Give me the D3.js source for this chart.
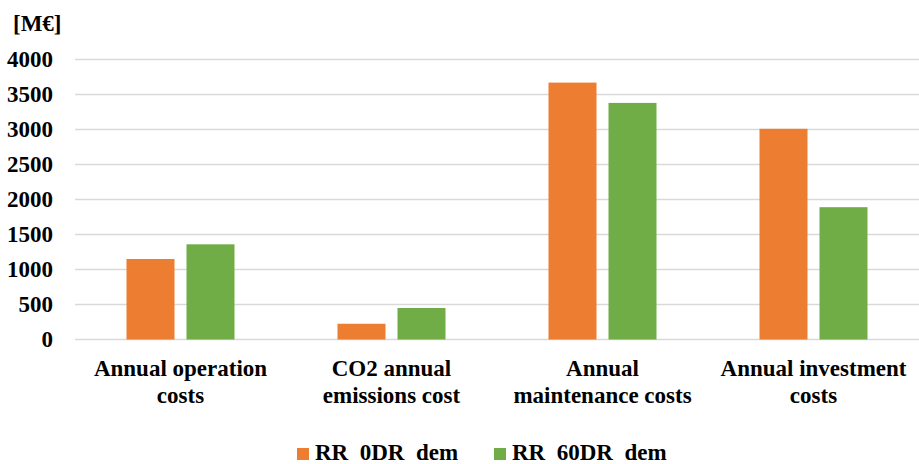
<!DOCTYPE html>
<html>
<head>
<meta charset="utf-8">
<script src="https://cdn.jsdelivr.net/npm/d3@7"></script>
<style>
  html, body { margin: 0; padding: 0; background: #ffffff; }
  svg { display: block; }
</style>
</head>
<body>
<svg id="chart" width="919" height="464"></svg>
<script>
// Cost categories (two-line labels) and the two scenarios
const categories = [
  ["Annual operation", "costs"],
  ["CO2 annual", "emissions cost"],
  ["Annual", "maintenance costs"],
  ["Annual investment", "costs"]
];
const seriesNames = ["RR  0DR  dem", "RR  60DR  dem"];
const rr0drValues = [1150, 225, 3670, 3010];
const rr60drValues = [1360, 450, 3380, 1890];
const yTicks = [0, 500, 1000, 1500, 2000, 2500, 3000, 3500, 4000];
const yTitle = "[M€]";

const colors = ["#ED7D31", "#70AD47"];
const seriesValues = [rr0drValues, rr60drValues];
const FONT = "'Liberation Serif', 'Times New Roman', serif";

function styleText(sel, size) {
  return sel.style("font-family", FONT)
    .style("font-weight", "bold")
    .style("font-size", size + "px")
    .style("fill", "#000");
}

const svg = d3.select("#chart");
const plot = { left: 75, right: 919, top: 59.5, bottom: 339.5 };

const x0 = d3.scaleBand()
  .domain(d3.range(categories.length))
  .range([plot.left, plot.right])
  .padding(0);

const groupWidth = 108;
const x1 = d3.scaleBand()
  .domain(d3.range(seriesNames.length))
  .range([0, groupWidth])
  .paddingInner(0.2)
  .paddingOuter(0);

const y = d3.scaleLinear().domain([0, 4000]).range([plot.bottom, plot.top]);

// Horizontal gridlines
svg.append("g")
  .selectAll("line")
  .data(yTicks)
  .join("line")
  .attr("x1", plot.left)
  .attr("x2", plot.right)
  .attr("y1", d => y(d))
  .attr("y2", d => y(d))
  .attr("stroke", "#d9d9d9")
  .attr("stroke-width", 1.5);

// Y axis tick labels
const yAxis = d3.axisLeft(y).tickValues(yTicks).tickFormat(d3.format("d")).tickSize(0).tickPadding(0);
const yg = svg.append("g")
  .attr("transform", "translate(53,0)")
  .call(yAxis);
yg.select(".domain").remove();
styleText(yg.selectAll("text"), 23);

// Unit title
styleText(svg.append("text")
  .attr("x", 13)
  .attr("y", 31)
  .text(yTitle), 23);

// Bars
const groups = svg.append("g")
  .selectAll("g")
  .data(categories.map((c, i) => i))
  .join("g")
  .attr("transform", i => `translate(${x0(i) + (x0.bandwidth() - groupWidth) / 2},0)`);

groups.selectAll("rect")
  .data(i => seriesValues.map((vals, s) => ({ s, v: vals[i] })))
  .join("rect")
  .attr("x", d => x1(d.s))
  .attr("width", x1.bandwidth())
  .attr("y", d => y(d.v))
  .attr("height", d => y(0) - y(d.v))
  .attr("fill", d => colors[d.s]);

// Category labels
const labels = styleText(svg.append("g")
  .selectAll("text")
  .data(categories)
  .join("text")
  .attr("text-anchor", "middle")
  .attr("transform", (d, i) => `translate(${x0(i) + x0.bandwidth() / 2},0)`), 23);
labels.selectAll("tspan")
  .data(d => d)
  .join("tspan")
  .attr("x", 0)
  .attr("y", (d, j) => 376 + j * 27)
  .text(d => d);

// Legend
const legendX = [297, 494];
const legend = svg.append("g")
  .selectAll("g")
  .data(seriesNames)
  .join("g")
  .attr("transform", (d, i) => `translate(${legendX[i]},0)`);
legend.append("rect")
  .attr("x", 0)
  .attr("y", 448)
  .attr("width", 12)
  .attr("height", 12)
  .attr("fill", (d, i) => colors[i]);
styleText(legend.append("text")
  .attr("x", 18)
  .attr("y", 460)
  .style("white-space", "pre")
  .text(d => d), 23);
</script>
</body>
</html>
